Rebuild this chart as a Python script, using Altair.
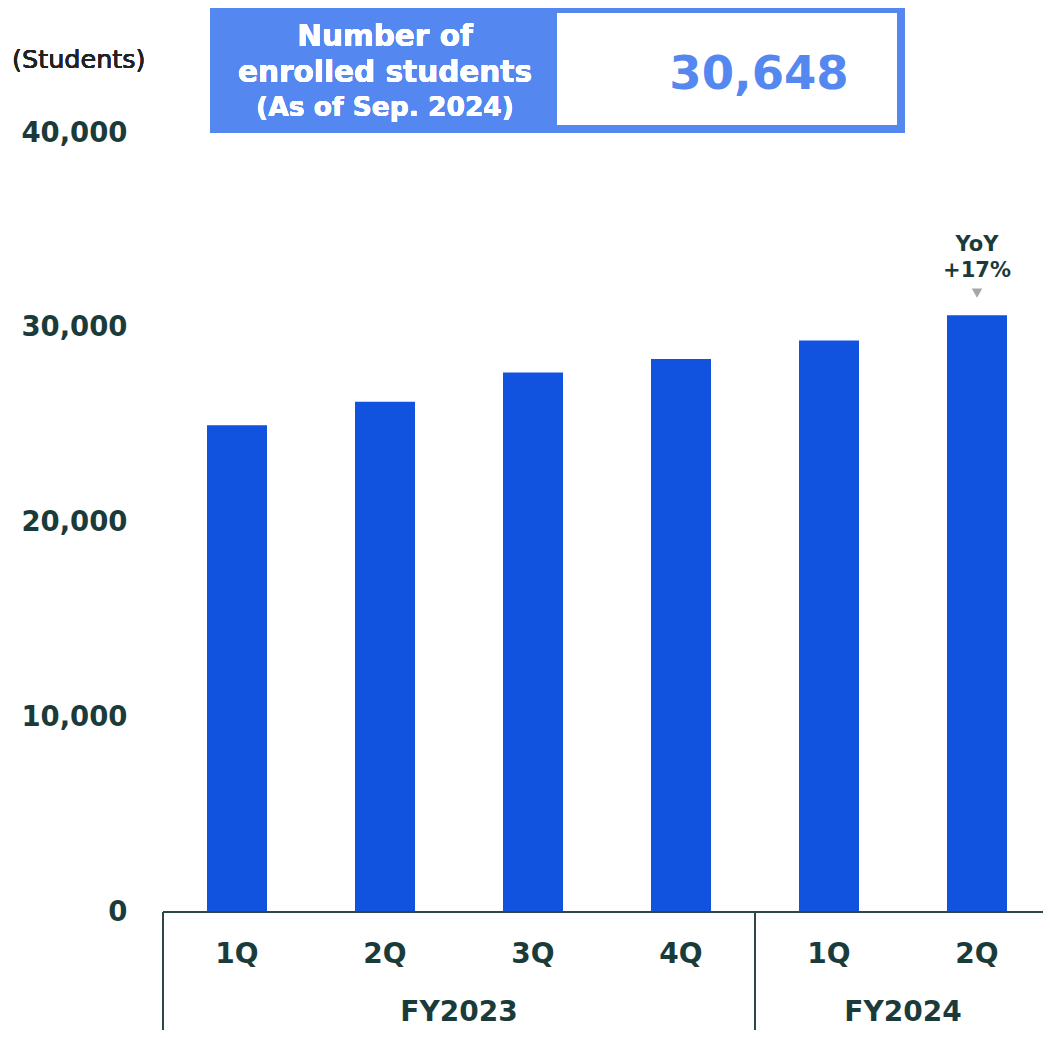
import altair as alt
import pandas as pd

# ---- data ----
quarters = ["1Q", "2Q", "3Q", "4Q", "1Q", "2Q"]
fiscal_years = ["FY2023", "FY2023", "FY2023", "FY2023", "FY2024", "FY2024"]
students = [25000, 26200, 27700, 28400, 29350, 30648]
fy_names = ["FY2023", "FY2024"]
y_ticks = [0, 10000, 20000, 30000, 40000]
yoy_label = ["YoY", "+17%"]

BAR = "#1152DF"
BOX = "#5587F1"
TXT = "#1B3B3B"
FONT = "DejaVu Sans"

df = pd.DataFrame({"quarter": quarters, "fy": fiscal_years, "students": students})
df["idx"] = range(len(df))
df["pos"] = df["idx"] + 0.5

fy_df = pd.DataFrame({"fy": fy_names})
fy_df["start"] = [df[df.fy == f]["idx"].min() for f in fy_names]
fy_df["end"] = [df[df.fy == f]["idx"].max() + 1 for f in fy_names]
fy_df["mid"] = (fy_df["start"] + fy_df["end"]) / 2

last = df.iloc[[-1]].copy()
last["total_txt"] = f"{students[-1]:,}"

W, H = 888, 779
xs = alt.Scale(domain=[0, 6], padding=0, nice=False, zero=False)
ys = alt.Scale(domain=[0, 40000], nice=False)
y_axis = alt.Axis(values=y_ticks, labelExpr="format(datum.value, ',')",
                  title=None, domain=False, ticks=False, grid=False,
                  labelFont=FONT, labelFontSize=27.5, labelFontWeight="bold",
                  labelColor=TXT, labelPadding=36)


def X(field):
    return alt.X(field, scale=xs, axis=None)


def Y(field):
    return alt.Y(field, scale=ys, axis=y_axis)


base = alt.Chart(df)

bars = base.mark_bar(color=BAR, size=60).encode(x=X("pos:Q"), y=Y("students:Q"))

q_labels = base.mark_text(font=FONT, fontSize=28, fontWeight="bold",
                          color=TXT, baseline="middle").encode(
    x=X("pos:Q"), y=alt.value(955 - 133), text="quarter:N")

fy_labels = alt.Chart(fy_df).mark_text(font=FONT, fontSize=28, fontWeight="bold",
                                       color=TXT, baseline="middle").encode(
    x=X("mid:Q"), y=alt.value(1013 - 133), text="fy:N")

dividers = alt.Chart(fy_df).mark_rule(color="#2E4848", strokeWidth=2).encode(
    x=X("start:Q"), y=alt.value(H), y2=alt.value(1030 - 133))

axis_line = alt.Chart(df).mark_rule(color="#2E4848", strokeWidth=2).encode(
    x=alt.value(0), x2=alt.value(W), y=alt.value(H))

tri = alt.Chart(last).mark_point(shape="triangle-down", filled=True,
                                 color="#A6A6A6", size=110, opacity=1,
                                 yOffset=-22).encode(
    x=X("pos:Q"), y=Y("students:Q"))

yoy1 = alt.Chart(last).mark_text(font=FONT, fontSize=21, fontWeight="bold",
                                 color=TXT, dy=-70, baseline="middle").encode(
    x=X("pos:Q"), y=Y("students:Q"), text=alt.value(yoy_label[0]))
yoy2 = alt.Chart(last).mark_text(font=FONT, fontSize=21, fontWeight="bold",
                                 color=TXT, dy=-44, baseline="middle").encode(
    x=X("pos:Q"), y=Y("students:Q"), text=alt.value(yoy_label[1]))

unit = alt.Chart(df).mark_text(font=FONT, fontSize=25.5, fontWeight="normal",
                               color="#222222", align="left", baseline="middle").encode(
    x=alt.value(12 - 163), y=alt.value(60 - 133), text=alt.value("(Students)"))

box_outer = alt.Chart(df).mark_rect(color=BOX).encode(
    x=alt.value(210 - 163), x2=alt.value(905 - 163),
    y=alt.value(5 - 133), y2=alt.value(133 - 133))
box_inner = alt.Chart(df).mark_rect(color="white").encode(
    x=alt.value(557 - 163), x2=alt.value(897 - 163),
    y=alt.value(13 - 133), y2=alt.value(125 - 133))

box_t1 = alt.Chart(df).mark_text(font=FONT, fontSize=29.5, fontWeight="bold",
                                 color="white", baseline="middle").encode(
    x=alt.value(385 - 163), y=alt.value(37 - 133), text=alt.value("Number of"))
box_t2 = alt.Chart(df).mark_text(font=FONT, fontSize=29.5, fontWeight="bold",
                                 color="white", baseline="middle").encode(
    x=alt.value(385 - 163), y=alt.value(73 - 133), text=alt.value("enrolled students"))
box_t3 = alt.Chart(df).mark_text(font=FONT, fontSize=26.5, fontWeight="bold",
                                 color="white", baseline="middle").encode(
    x=alt.value(385 - 163), y=alt.value(108 - 133), text=alt.value("(As of Sep. 2024)"))
total = alt.Chart(last).mark_text(font=FONT, fontSize=46.5, fontWeight="bold",
                                  color=BOX, baseline="middle").encode(
    x=alt.value(759 - 163), y=alt.value(75 - 133), text="total_txt:N")

chart = alt.layer(
    box_outer, box_inner, box_t1, box_t2, box_t3, total, unit,
    bars, axis_line, dividers, q_labels, fy_labels, tri, yoy1, yoy2,
).properties(
    width=W, height=H,
    autosize=alt.AutoSizeParams(type="none"),
    padding={"left": 155, "top": 125, "right": -8, "bottom": 118},
).configure(background="white").configure_view(strokeWidth=0, stroke="transparent", clip=False)

chart.save("out.html", embed_options={"renderer": "svg", "actions": False})
